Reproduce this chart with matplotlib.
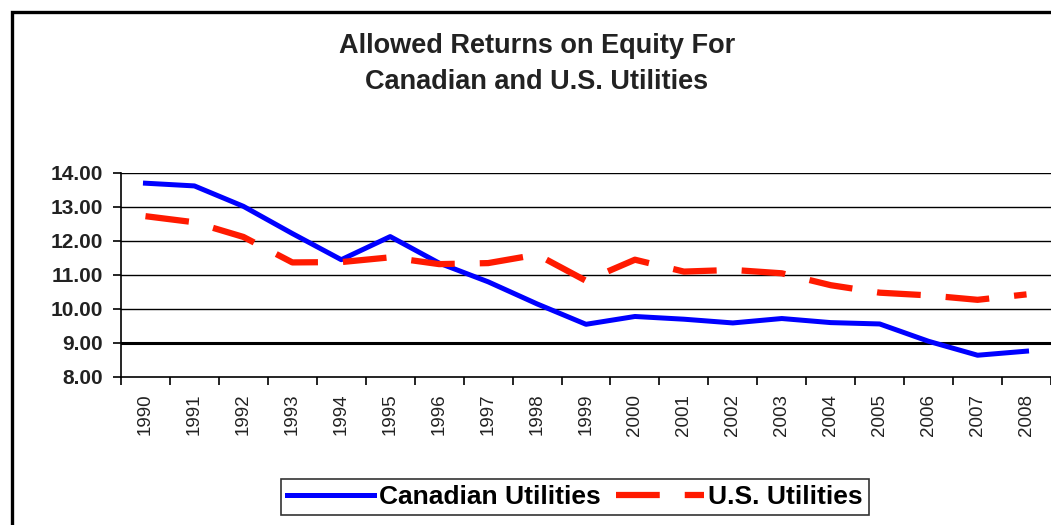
import numpy as np
import matplotlib.pyplot as plt
from matplotlib.patches import Rectangle

plt.rcParams['font.family'] = ['Liberation Sans', 'DejaVu Sans']

years = [str(y) for y in range(1990, 2009)]
canadian = [13.70, 13.62, 13.02, 12.22, 11.45, 12.13, 11.35, 10.80, 10.15, 9.55,
            9.78, 9.70, 9.59, 9.72, 9.60, 9.56, 9.05, 8.64, 8.76]
us = [12.73, 12.55, 12.12, 11.37, 11.38, 11.52, 11.32, 11.35, 11.60, 10.83,
      11.45, 11.10, 11.15, 11.05, 10.70, 10.48, 10.40, 10.27, 10.43]
yticks = [8, 9, 10, 11, 12, 13, 14]

fig = plt.figure(figsize=(10.51, 5.25), dpi=100)
ax = fig.add_axes([121/1051, 1 - 377/525, 1 - 121/1051, (377-173)/525])

x = np.arange(len(years))
ax.plot(x, canadian, color='#0000ff', lw=3.6, label='Canadian Utilities', zorder=3)
ax.plot(x, us, color='#ff1a00', lw=4.5, dashes=(7, 4), label='U.S. Utilities', zorder=3)

ax.set_xlim(-0.5, len(years) - 0.5)
ax.set_ylim(8, 14)
ax.set_yticks(yticks)
ax.set_yticklabels([f'{v:.2f}' for v in yticks], fontsize=15, fontweight='bold', color='#222222')
for v in yticks[1:]:
    ax.axhline(v, color='black', lw=2.2 if v == 9 else 1.0, zorder=1)

ax.set_xticks(x)
ax.set_xticklabels(years, rotation=90, fontsize=13.5, color='#222222')
ax.set_xticks(np.arange(len(years) + 1) - 0.5, minor=True)
ax.tick_params(axis='x', which='major', length=0, pad=12)
ax.tick_params(axis='x', which='minor', length=6, width=1.2, direction='out')
ax.tick_params(axis='y', length=6, width=1.2, pad=7)

for s in ['top', 'right']:
    ax.spines[s].set_visible(False)
ax.spines['left'].set_linewidth(1.2)
ax.spines['bottom'].set_linewidth(1.2)

fig.text(0.511, 0.912, 'Allowed Returns on Equity For', ha='center', va='center',
         fontsize=19.5, fontweight='bold', color='#222222')
fig.text(0.511, 0.843, 'Canadian and U.S. Utilities', ha='center', va='center',
         fontsize=19.5, fontweight='bold', color='#222222')

leg = fig.legend(loc='center', bbox_to_anchor=(575/1051, 1 - 497/525), ncol=2,
                 prop={'weight': 'bold', 'size': 19}, frameon=True, fancybox=False,
                 handlelength=3.3, handletextpad=0.18, columnspacing=0.6, borderpad=0.22,
                 borderaxespad=0)
leg.get_frame().set_edgecolor('black')
leg.get_frame().set_linewidth(1.2)

fig.patches.append(Rectangle((11.5/1051, -0.2), 1.2, 1 - 11.5/525 + 0.2, transform=fig.transFigure,
                             fill=False, edgecolor='black', lw=2.4))

fig.savefig('out.png', dpi=100)
